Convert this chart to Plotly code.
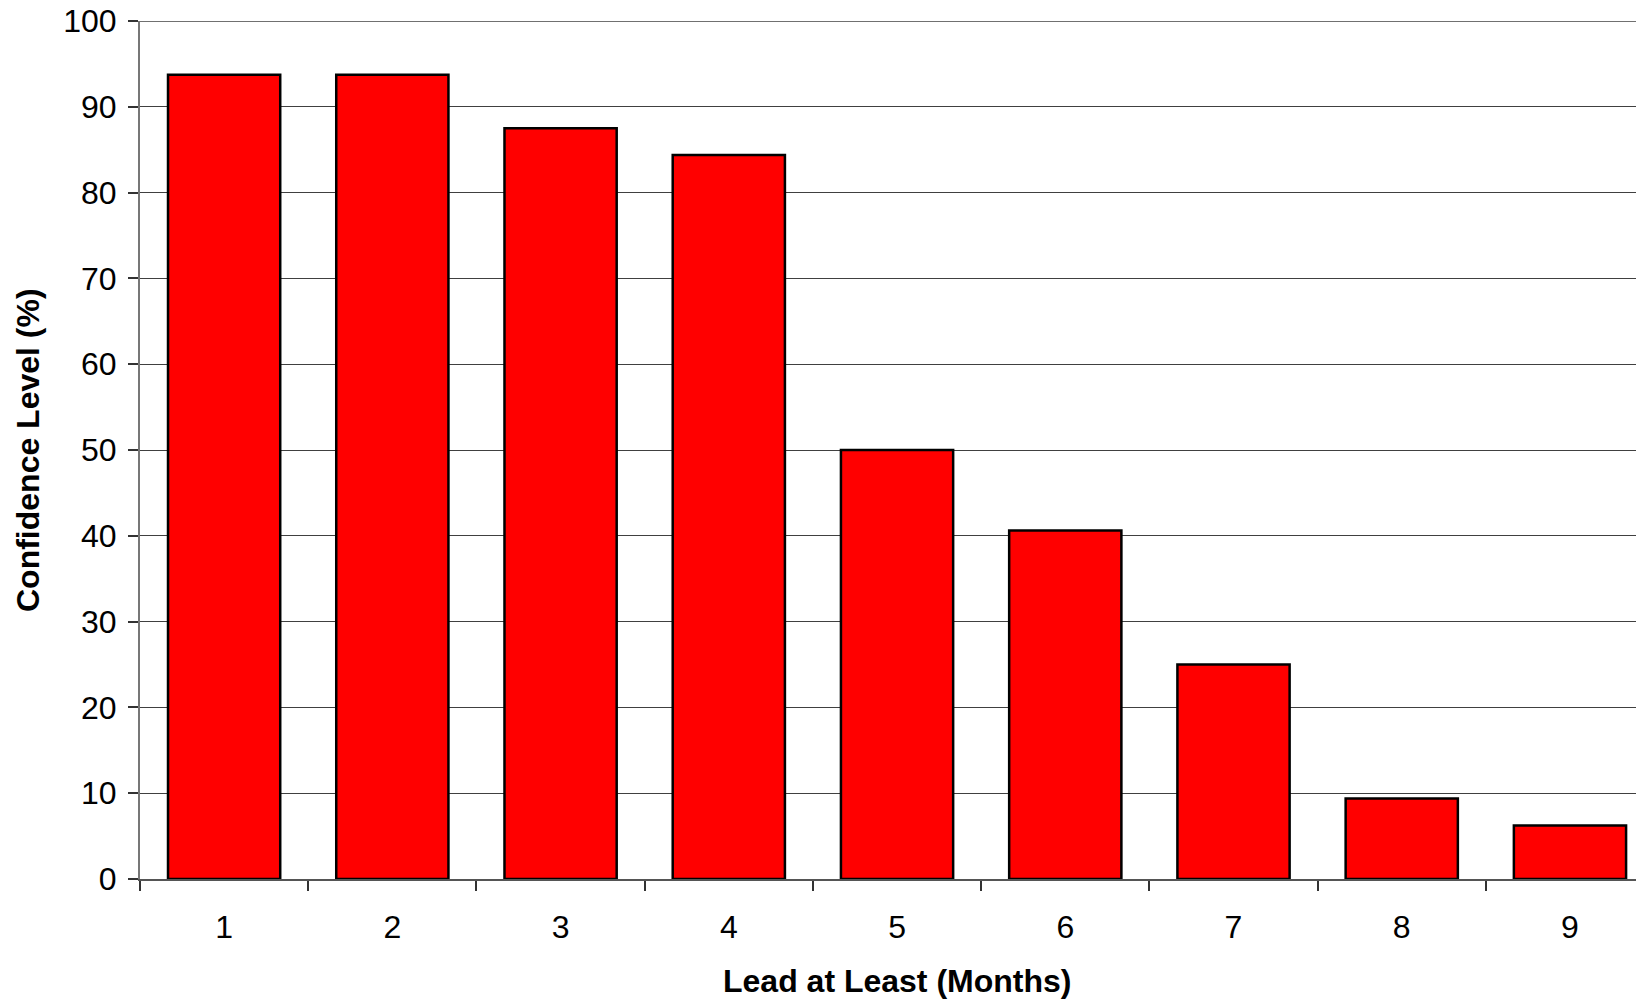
import plotly.graph_objects as go

months = ["1", "2", "3", "4", "5", "6", "7", "8", "9"]
confidence = [93.75, 93.75, 87.5, 84.375, 50.0, 40.625, 25.0, 9.375, 6.25]
y_ticks = [0, 10, 20, 30, 40, 50, 60, 70, 80, 90, 100]

x_title = "Lead at Least (Months)"
y_title = "Confidence Level (%)"

font_family = "Liberation Sans, Arial, sans-serif"
FS = 32
GRID = "#404040"

fig = go.Figure()
fig.add_trace(go.Bar(
    x=months,
    y=confidence,
    width=0.667,
    marker=dict(color="#FF0000", line=dict(color="#000000", width=2.5)),
))

fig.update_layout(
    width=1636,
    height=994,
    margin=dict(l=132, r=0, t=13, b=123, autoexpand=False),
    paper_bgcolor="white",
    plot_bgcolor="white",
    showlegend=False,
    font=dict(family=font_family, size=FS, color="black"),
    bargap=0.333,
    annotations=[
        dict(text="<b>" + x_title + "</b>", x=4, y=-0.119, xref="x", yref="paper",
             showarrow=False, xanchor="center", yanchor="middle",
             font=dict(family=font_family, size=FS, color="black")),
        dict(text="<b>" + y_title + "</b>", x=(28 - 140) / 1504, y=0.5,
             xref="paper", yref="paper", textangle=-90,
             showarrow=False, xanchor="center", yanchor="middle",
             font=dict(family=font_family, size=FS, color="black")),
    ],
)

# top gridline (at the last y tick), which plotly omits at the range edge
fig.add_shape(type="line", xref="paper", yref="y", x0=0, x1=1,
              y0=y_ticks[-1], y1=y_ticks[-1],
              line=dict(color=GRID, width=1.5), layer="below")

fig.update_xaxes(
    type="category",
    range=[-0.5, 8.44],
    automargin=False,
    tickson="boundaries",
    ticks="outside",
    ticklen=10,
    tickcolor="#333333",
    tickwidth=1.5,
    showline=True,
    linecolor="#555555",
    linewidth=2,
    showgrid=False,
    tickfont=dict(family=font_family, size=FS, color="black"),
    ticklabelstandoff=19,
)

fig.update_yaxes(
    range=[0, 100],
    automargin=False,
    tickvals=y_ticks,
    ticks="outside",
    ticklen=10,
    tickcolor="#333333",
    tickwidth=1.5,
    showline=True,
    linecolor="#777777",
    linewidth=2,
    showgrid=True,
    gridcolor=GRID,
    gridwidth=1,
    zeroline=False,
    ticklabeloverflow="allow",
    tickfont=dict(family=font_family, size=FS, color="black"),
    ticklabelstandoff=5,
)

fig.write_html("out.html")
